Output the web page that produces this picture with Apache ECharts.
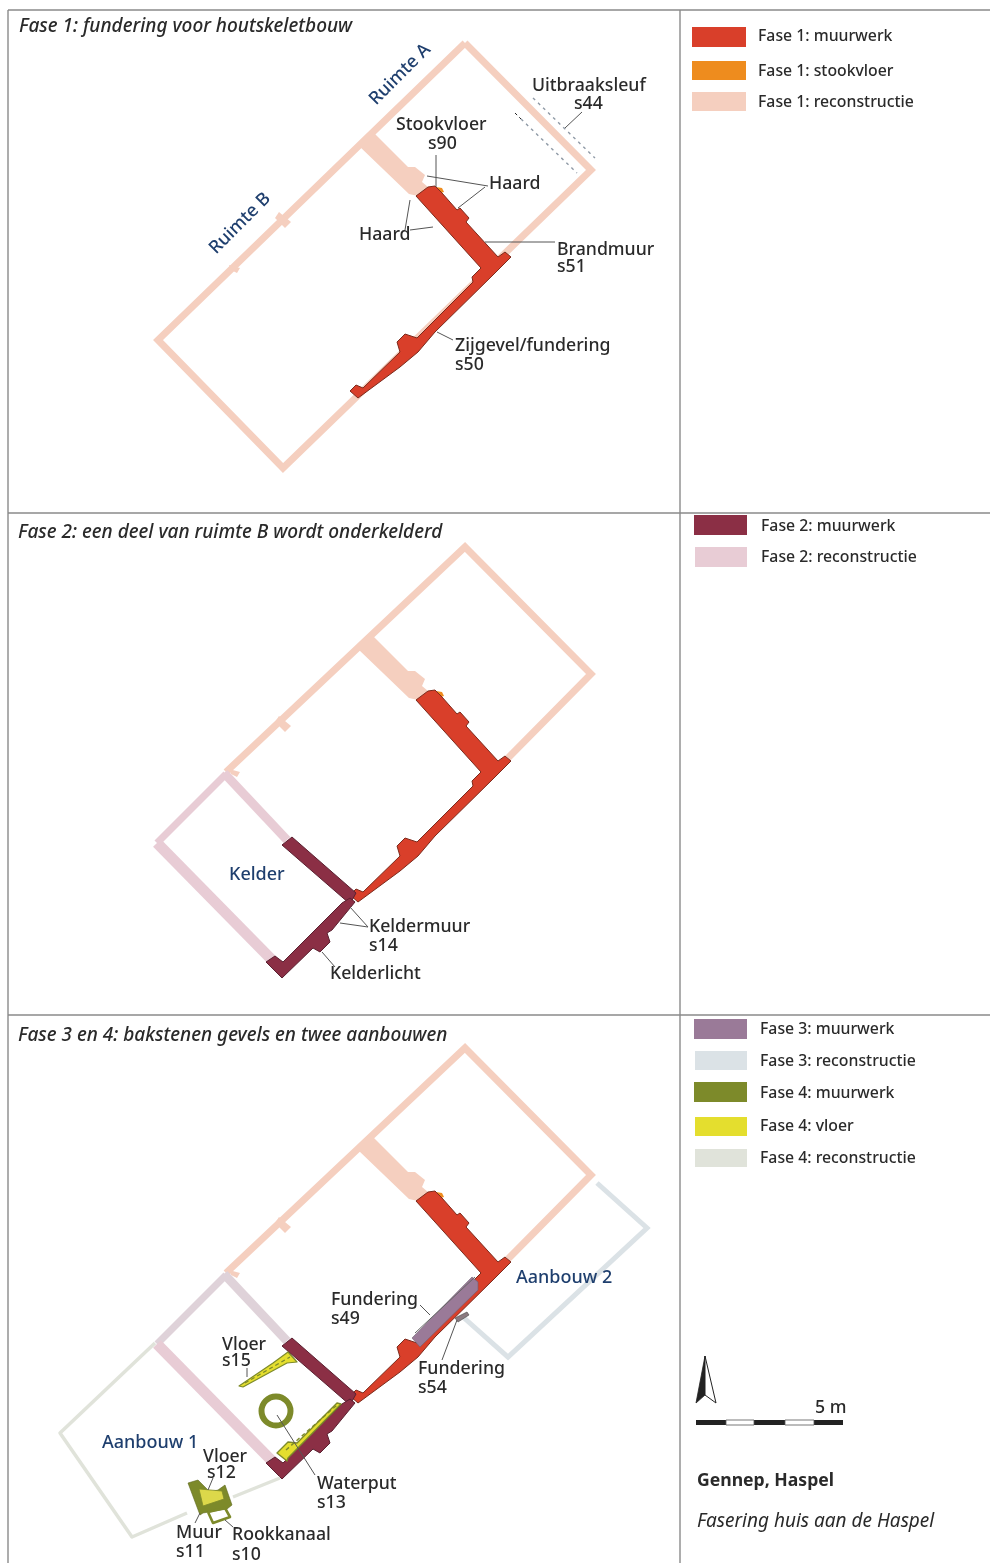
<!DOCTYPE html>
<html><head><meta charset="utf-8">
<style>html,body{margin:0;padding:0;background:#fff}#c{width:990px;height:1563px;filter:blur(0.4px)}</style>
<script src="https://cdn.jsdelivr.net/npm/echarts@6/dist/echarts.min.js"></script>
</head><body><div id="c"></div>
<script>
// ---- plan geometry, in plan units (panel 1 frame) ----
const panelShift = [0, 504, 1005];
const outerWall = [[465,43],[591,170],[283,468],[158,340],[465,43]];
const outerWallKept = [[226,268],[465,43],[591,170],[508,254]];
const reconPartition = [[373,132],[408,167],[415,167],[425,175],[422,182],[428,187],[418,196],[409,194],[358,145]];
const reconBumpA = [[279,212],[291,222],[285,228],[275,218]];
const reconBumpB = [[229,265],[240,268],[237,273],[231,270]];
const s51s50 = [[428,187],[435,186],[442,193],[457,210],[460,208],[469,218],[466,222],[498,257],[505,252],[511,257],[493,275],[435,332],[418,352],[400,367],[358,398],[350,391],[356,385],[363,388],[400,352],[397,342],[405,334],[417,338],[473,282],[472,277],[481,268],[416,196]];
const s90 = [[436,187],[442,188],[444,192],[441,193]];
const sleufOuter = [[533,98],[595,158]];
const sleufInner = [[521,119],[577,173]];
const sleufStart = [[515,113],[521,119]];
const kelderThinLeft = [[226,270],[157,339]];
const kelderThickLeft = [[157,339],[273,457]];
const kelderCross = [[224,269],[287,336]];
const s14Cross = [[292,333],[356,389],[350,400],[282,341]];
const s14Front = [[350,394],[355,398],[332,426],[327,429],[330,438],[320,448],[313,444],[282,474],[266,458],[275,452],[283,458],[342,399]];
// panel 3 absolute elements
const aanbouw1 = [[155,1343],[60,1433],[132,1537],[187,1513]];
const aanbouw1b = [[233,1497],[280,1478]];
const aanbouw2 = [[597,1183],[647,1228],[508,1357],[463,1317]];
const s49 = [[472,1277],[478,1282],[478,1290],[420,1347],[412,1338]];
const s49Edge = [[415,1333],[475,1277]];
const s54 = [[455,1318],[467,1312],[469,1315],[458,1322]];
const s15 = [[239,1386],[273,1363],[288,1352],[297,1362],[287,1363],[243,1387]];
const s13Floor = [[337,1403],[341,1404],[288,1458],[287,1461],[277,1453],[288,1442],[297,1443]];
const s13Hatch = [[286,1450],[337,1405]];
const s15Hatch = [[245,1383],[290,1357]];
const s11 = [[188,1483],[198,1480],[210,1492],[218,1490],[225,1485],[232,1505],[227,1509],[203,1513],[200,1515]];
const s12 = [[199,1489],[222,1491],[224,1499],[203,1506]];
const s10 = [[208,1512],[225,1508],[230,1517],[213,1523],[208,1512]];
const wellCentre = [276,1411];
const wellRadius = 14.5;
// frame
const frameLines = [[[8,10],[990,10]],[[8,513],[990,513]],[[8,1015],[990,1015]],[[8,10],[8,1563]],[[680,10],[680,1563]]];
// leaders
const leaders = [
 [[436,155],[436,187]],[[488,186],[427,176]],[[485,187],[458,208]],[[410,230],[433,227]],[[405,230],[410,200]],
 [[485,242],[555,242]],[[437,332],[453,340]],[[565,128],[582,112]],
 [[368,927],[350,907]],[[368,927],[340,923]],[[335,967],[322,952]],
 [[430,1315],[420,1305]],[[442,1360],[457,1320]],[[247,1368],[247,1377]],[[213,1478],[208,1490]],
 [[315,1475],[277,1415]],[[195,1523],[200,1513]],[[233,1527],[225,1520]]
];
// legend
const legendNames = ["Fase 1: muurwerk","Fase 1: stookvloer","Fase 1: reconstructie","Fase 2: muurwerk","Fase 2: reconstructie","Fase 3: muurwerk","Fase 3: reconstructie","Fase 4: muurwerk","Fase 4: vloer","Fase 4: reconstructie"];
const legendX = [758,758,758,761,761,760,760,760,760,760];
const legendY = [35,70,101,525,556,1028,1060,1092,1125,1157];
const legendBox = [[692,27,746,47],[692,61,746,80],[692,92,746,111],[694,515,747,535],[695,547,747,567],[694,1019,747,1039],[695,1051,747,1070],[694,1082,747,1102],[695,1117,747,1136],[695,1149,747,1167]];
// titles and labels: text, x, y
const titles = [["Fase 1: fundering voor houtskeletbouw",19,25],["Fase 2: een deel van ruimte B wordt onderkelderd",18,531],["Fase 3 en 4: bakstenen gevels en twee aanbouwen",18,1034]];
const blueLabels = [["Kelder",229,873],["Aanbouw 1",102,1441],["Aanbouw 2",516,1276]];
const rotatedLabels = [["Ruimte A",400,73],["Ruimte B",240,222]];
const blackLabels = [["Uitbraaksleuf",532,84],["s44",574,102],["Stookvloer",396,123],["s90",428,142],["Haard",489,182],["Haard",359,233],["Brandmuur",557,248],["s51",557,265],["Zijgevel/fundering",455,344],["s50",455,363],
 ["Keldermuur",369,925],["s14",369,944],["Kelderlicht",330,972],
 ["Fundering",331,1298],["s49",331,1317],["Fundering",418,1367],["s54",418,1386],["Vloer",222,1343],["s15",222,1359],["Vloer",203,1455],["s12",207,1471],["Waterput",317,1482],["s13",317,1501],["Muur",176,1531],["s11",176,1550],["Rookkanaal",232,1533],["s10",232,1553],["5 m",815,1406]];
const northLeft = [[705,1356],[696,1403],[705,1395]];
const northRight = [[705,1356],[716,1403],[705,1395]];
const scaleBlack = [[696,1420,726,1425],[754,1420,785,1425],[814,1420,843,1425]];
const scaleWhite = [[726,1420,754,1425],[785,1420,814,1425]];

// ---- colours ----
const C = {red:"#d93f2a",redEdge:"#7c2a1c",orange:"#ee8c1e",salmon:"#f5cfbf",dark:"#8b2f45",darkEdge:"#5a2030",pink:"#e8ccd5",purple:"#9a7a98",blue3:"#dbe2e6",olive:"#7d8a2a",yellow:"#e4de2e",grey4:"#e0e3da",leader:"#555",frame:"#8a8a8a",ink:"#2a2a2a",navy:"#1f3f6e"};
const FONT = '"Noto Sans","Open Sans",sans-serif';

const at = (pts,dy)=>pts.map(p=>[p[0],p[1]+dy]);
const items = [];
const line=(pts,color,w,extra)=>items.push(Object.assign({k:"line",pts,color,w},extra||{}));
const poly=(pts,fill,stroke,w)=>items.push({k:"poly",pts,fill,stroke,w});
const box=(b,fill,stroke,w)=>poly([[b[0],b[1]],[b[2],b[1]],[b[2],b[3]],[b[0],b[3]]],fill,stroke,w);
const text=(t,x,y,font,fill,rot)=>items.push({k:"text",pts:[[x,y+1.5]],t,font,fill,rot:rot||0});

frameLines.forEach(l=>line(l,C.frame,1.4));

panelShift.forEach((dy,i)=>{
  if(i===0) line(at(outerWall,dy),C.salmon,7,{miter:true});
  else line(at(outerWallKept,dy),C.salmon,7,{miter:true});
  poly(at(reconPartition,dy),C.salmon);
  poly(at(reconBumpA,dy),C.salmon);
  poly(at(reconBumpB,dy),C.salmon);
  if(i>0){
    const thin = i===1? C.pink : "#dfd2d9";
    line(at(kelderThinLeft,dy),thin,7);
    line(at(kelderThickLeft,dy),C.pink,11);
    line(at(kelderCross,dy),thin,9);
  }
  poly(at(s90,dy),C.orange);
  poly(at(s51s50,dy),C.red,C.redEdge,1);
  if(i>0){
    poly(at(s14Cross,dy),C.dark,C.darkEdge,1);
    poly(at(s14Front,dy),C.dark,C.darkEdge,1);
  }
});
// uitbraaksleuf
line(sleufOuter,"#8f9aa6",1.4,{dash:[3,4]});
line(sleufInner,"#8f9aa6",1.4,{dash:[3,4]});
line(sleufStart,"#222",1,{dash:[3,3]});
// panel 3 additions
line(aanbouw1,C.grey4,3.5);
line(aanbouw1b,C.grey4,3.5);
line(aanbouw2,C.blue3,5,{miter:true});
poly(s49,C.purple,"#6f6070",0.6);
line(s49Edge,"#666",1);
poly(s54,"#8a7a80","#444",0.6);
poly(s15,C.yellow,C.olive,1.2);
line(s15Hatch,C.olive,1.4,{dash:[4,3]});
poly(s13Floor,C.yellow,C.olive,1.4);
line(s13Hatch,C.olive,1.4,{dash:[4,3]});
items.push({k:"ring",pts:[wellCentre],r:wellRadius,color:C.olive,w:6});
poly(s11,C.olive,"#5e681c",0.6);
poly(s12,"#dcd84a",C.olive,0.8);
line(s10,C.olive,2.6);
leaders.forEach(l=>line(l,C.leader,1));
// legend
const fills=[C.red,C.orange,C.salmon,C.dark,C.pink,C.purple,C.blue3,C.olive,C.yellow,C.grey4];
legendBox.forEach((b,i)=>box(b,fills[i]));
legendNames.forEach((n,i)=>text(n,legendX[i],legendY[i],`500 15.8px ${FONT}`,C.ink));
// north + scale
poly(northLeft,"#222","#222",0.8);
poly(northRight,"#fff","#222",1);
scaleBlack.forEach(b=>box(b,"#222"));
scaleWhite.forEach(b=>box(b,"#fff","#555",0.8));
// texts
titles.forEach(t=>text(t[0],t[1],t[2],`italic 500 19px ${FONT}`,C.ink));
blueLabels.forEach(t=>text(t[0],t[1],t[2],`500 18px ${FONT}`,C.navy));
rotatedLabels.forEach(t=>text(t[0],t[1],t[2],`500 18px ${FONT}`,C.navy,Math.PI/4));
blackLabels.forEach(t=>text(t[0],t[1],t[2],`500 17.7px ${FONT}`,C.ink));
text("Gennep, Haspel",697,1479,`bold 17.6px ${FONT}`,C.ink);
text("Fasering huis aan de Haspel",697,1520,`italic 19px ${FONT}`,C.ink);

function renderItem(params,api){
  const s=items[params.dataIndex];
  const pts=s.pts.map(p=>api.coord(p));
  if(s.k==="text"){
    const centred=s.rot!==0;
    return {type:"text",x:pts[0][0],y:pts[0][1],rotation:s.rot,
      style:{text:s.t,font:s.font,fill:s.fill,align:centred?"center":"left",verticalAlign:"middle"}};
  }
  if(s.k==="ring") return {type:"circle",shape:{cx:pts[0][0],cy:pts[0][1],r:s.r},style:{fill:"none",stroke:s.color,lineWidth:s.w}};
  if(s.k==="line") return {type:"polyline",shape:{points:pts},style:{fill:"none",stroke:s.color,lineWidth:s.w,lineDash:s.dash||null,lineJoin:s.miter?"miter":"round",lineCap:"butt"}};
  return {type:"polygon",shape:{points:pts},style:{fill:s.fill,stroke:s.stroke||null,lineWidth:s.w||0,lineJoin:"round"}};
}
const chart=echarts.init(document.getElementById("c"));
chart.setOption({
  animation:false,backgroundColor:"#fff",
  grid:{left:0,top:0,width:990,height:1563},
  xAxis:{type:"value",min:0,max:990,show:false},
  yAxis:{type:"value",min:0,max:1563,inverse:true,show:false},
  tooltip:{show:false},
  series:[{type:"custom",coordinateSystem:"cartesian2d",clip:false,silent:true,renderItem,
    encode:{x:0,y:1},
    data:items.map((s,i)=>[s.pts[0][0],s.pts[0][1],i])}]
});
</script></body></html>
